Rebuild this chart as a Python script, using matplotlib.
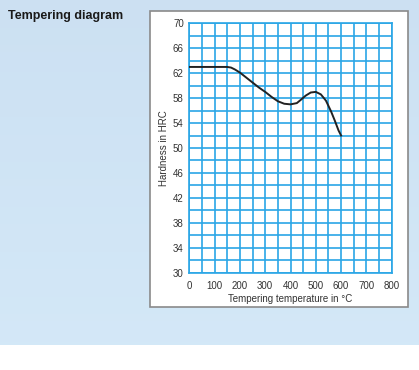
import numpy as np
import matplotlib
matplotlib.use("Agg")
import matplotlib.pyplot as plt
from matplotlib.patches import Rectangle

plt.rcParams["font.family"] = ["Liberation Sans", "DejaVu Sans"]

# values
temp = [0, 50, 100, 150, 165, 180, 200, 225, 250, 275, 300, 325, 350, 375, 400,
        425, 440, 460, 480, 500, 520, 540, 560, 575, 590, 600]
hrc = [63, 63, 63, 63, 62.9, 62.6, 62.1, 61.3, 60.5, 59.7, 59.0, 58.2, 57.5, 57.1, 57.0,
       57.2, 57.7, 58.4, 58.9, 59.0, 58.6, 57.6, 55.9, 54.4, 52.8, 52.0]
xticks = [0, 100, 200, 300, 400, 500, 600, 700, 800]
yticks = [30, 34, 38, 42, 46, 50, 54, 58, 62, 66, 70]

grid_blue = "#2aa6e6"
W, H = 419, 370

fig = plt.figure(figsize=(W / 100, H / 100), dpi=100)
fig.patch.set_facecolor("white")

# light blue background with white strip at the bottom
bg = fig.add_axes([0, 25 / H, 1, 1 - 25 / H])
bg.set_zorder(-2)
grad = np.linspace(0, 1, 100)[:, None]
top = np.array([0.80, 0.88, 0.95])
bot = np.array([0.83, 0.91, 0.97])
img = top + (bot - top) * grad[..., None]
img = np.repeat(img, 2, axis=1)
bg.imshow(img, aspect="auto", extent=[0, 1, 0, 1], origin="upper")
bg.set_axis_off()

# white panel with grey border
fig.patches.append(Rectangle((150 / W, 1 - 307 / H), 258 / W, 296 / H,
                             transform=fig.transFigure, facecolor="white",
                             edgecolor="#8a8a8a", linewidth=1.2, zorder=-1))

fig.text(8 / W, 1 - 16 / H, "Tempering diagram", fontsize=9, fontweight="bold",
         color="#1a1a1a", va="center", ha="left")

ax = fig.add_axes([189.3 / W, 1 - 272.7 / H, 202.4 / W, 249.4 / H])
ax.set_zorder(1)
ax.set_facecolor("white")
ax.plot(temp, hrc, color="#222222", linewidth=1.4, zorder=3)

ax.set_xlim(0, 800)
ax.set_ylim(30, 70)
ax.set_xticks(xticks)
ax.set_yticks(yticks)
ax.set_xticks(np.arange(0, 801, 50), minor=True)
ax.set_yticks(np.arange(30, 71, 2), minor=True)
ax.grid(which="both", color=grid_blue, linewidth=1.2)
ax.tick_params(which="both", length=0, labelsize=7, colors="#333333")
ax.tick_params(axis="y", pad=4)
ax.tick_params(axis="x", pad=6)
for s in ax.spines.values():
    s.set_color(grid_blue)
    s.set_linewidth(1.2)

ax.set_xlabel("Tempering temperature in °C", fontsize=7, color="#333333", labelpad=2)
ax.set_ylabel("Hardness in HRC", fontsize=7, color="#333333", labelpad=3)

fig.savefig("out.png", dpi=100)
